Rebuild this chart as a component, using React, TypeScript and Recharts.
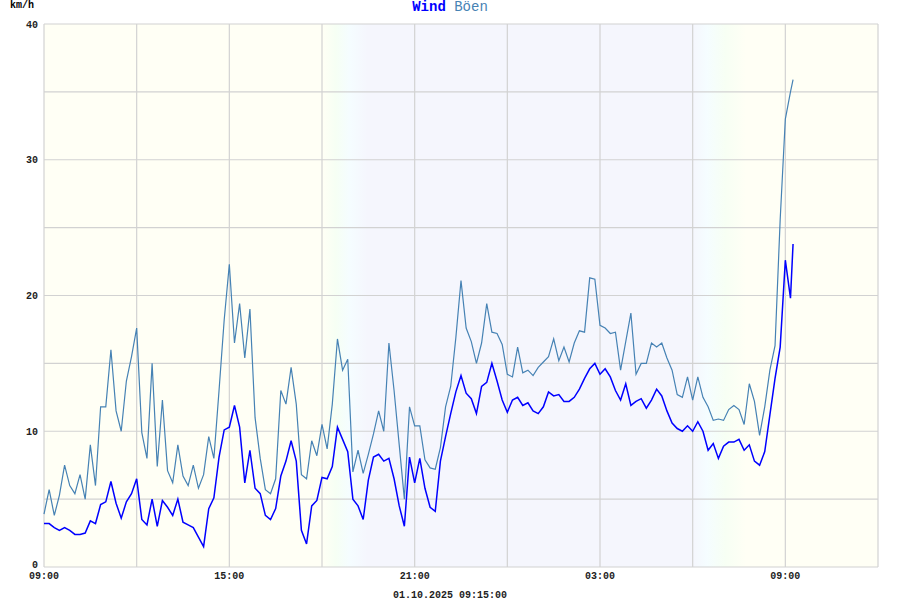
import { CartesianGrid, Line, LineChart, XAxis, YAxis } from 'recharts';

// 10-minute readings from 09:00 until 09:15 next day (km/h)
const windSpeed = [
  3.2, 3.2, 2.9, 2.7, 2.9, 2.7, 2.4, 2.4, 2.5, 3.4, 3.2, 4.6, 4.8, 6.3, 4.7, 3.6, 4.8, 5.4, 6.5, 3.5,
  3.1, 5.0, 3.0, 4.9, 4.4, 3.8, 5.0, 3.3, 3.1, 2.9, 2.2, 1.5, 4.3, 5.1, 8.1, 10.1, 10.3, 11.9, 10.3, 6.2,
  8.6, 5.8, 5.4, 3.8, 3.5, 4.3, 6.7, 7.8, 9.3, 7.8, 2.7, 1.7, 4.5, 4.9, 6.6, 6.5, 7.4, 10.3, 9.4, 8.5,
  5.0, 4.5, 3.5, 6.4, 8.1, 8.3, 7.8, 8.0, 6.5, 4.5, 3.0, 8.1, 6.2, 8.0, 5.8, 4.4, 4.1, 7.8, 9.6, 11.3,
  12.9, 14.1, 12.8, 12.4, 11.3, 13.3, 13.6, 15.0, 13.7, 12.3, 11.4, 12.3, 12.5, 11.9, 12.1, 11.5, 11.3, 11.8, 12.9, 12.6,
  12.7, 12.2, 12.2, 12.5, 13.1, 13.9, 14.6, 15.0, 14.2, 14.6, 14.0, 13.0, 12.3, 13.5, 11.9, 12.2, 12.4, 11.7, 12.3, 13.1,
  12.6, 11.5, 10.6, 10.2, 10.0, 10.4, 10.0, 10.7, 10.0, 8.6, 9.1, 8.0, 8.9, 9.2, 9.2, 9.4, 8.6, 9.0, 7.8, 7.5,
  8.5, 11.2, 13.9, 16.2, 22.6, 19.8, 23.8,
];

const gustSpeed = [
  3.9, 5.7, 3.8, 5.3, 7.5, 6.0, 5.4, 6.8, 5.0, 9.0, 6.0, 11.8, 11.8, 16.0, 11.5, 10.0, 13.7, 15.5, 17.6, 9.9,
  8.0, 15.0, 7.4, 12.3, 7.1, 6.2, 9.0, 6.7, 6.0, 7.5, 5.8, 6.8, 9.6, 8.0, 13.0, 18.2, 22.3, 16.5, 19.4, 15.4,
  19.0, 11.0, 8.0, 5.7, 5.4, 6.5, 13.0, 12.0, 14.7, 12.0, 6.8, 6.5, 9.3, 8.2, 10.5, 8.7, 12.0, 16.8, 14.5, 15.3,
  7.0, 8.6, 6.9, 8.3, 9.8, 11.5, 10.0, 16.5, 13.0, 9.0, 5.0, 11.8, 10.4, 10.4, 7.9, 7.3, 7.2, 8.8, 11.8, 13.3,
  16.9, 21.1, 17.6, 16.6, 15.0, 16.5, 19.4, 17.3, 17.2, 16.4, 14.2, 14.0, 16.2, 14.3, 14.5, 14.1, 14.7, 15.1, 15.5, 16.8,
  15.2, 16.2, 15.1, 16.5, 17.4, 17.3, 21.3, 21.2, 17.8, 17.6, 17.2, 17.3, 14.5, 16.6, 18.7, 14.2, 15.0, 15.0, 16.5, 16.2,
  16.5, 15.4, 14.5, 12.7, 12.5, 14.0, 12.3, 14.0, 12.5, 11.8, 10.8, 10.9, 10.8, 11.6, 11.9, 11.6, 10.5, 13.5, 12.2, 9.7,
  11.8, 14.5, 16.3, 25.6, 33.0, 35.0, 35.9,
];

const stepMinutes = 10;
const lastMinute = 1455; // 09:15
const minutes = windSpeed.map((_, i) => (i === windSpeed.length - 1 ? lastMinute : i * stepMinutes));

const xTicks = [0, 180, 360, 540, 720, 900, 1080, 1260, 1440, 1620];
const xTickLabels = ['09:00', '', '15:00', '', '21:00', '', '03:00', '', '09:00', ''];
const yTicks = [0, 5, 10, 15, 20, 25, 30, 35, 40];
const yTickLabels = ['0', '', '10', '', '20', '', '30', '', '40'];

const data = minutes.map((t, i) => ({ t, wind: windSpeed[i], gust: gustSpeed[i] }));

const mono = '"Liberation Mono", "DejaVu Sans Mono", monospace';

// y labels; the zero sits a little higher so it clears the time labels
function YTick(props: any) {
  const { x, y, payload } = props;
  const label = yTickLabels[yTicks.indexOf(payload.value)] ?? '';
  if (!label) return null;
  const lift = payload.value === 0 ? -3 : 0;
  return (
    <text x={x} y={y + lift} dy="0.35em" textAnchor="end" fontSize={10} fontWeight="bold" fill="#222" fontFamily={mono}>
      {label}
    </text>
  );
}

export default function App() {
  return (
    <div style={{ position: 'absolute', left: 0, top: 0, width: 900, height: 600, fontFamily: mono }}>
      <div style={{ position: 'absolute', left: 10, top: 0, fontSize: 10, fontWeight: 'bold', color: '#000' }}>km/h</div>
      <div style={{ position: 'absolute', left: 0, width: 900, top: -1, textAlign: 'center', fontSize: 14 }}>
        <span style={{ color: '#0000ff', fontWeight: 'bold' }}>Wind</span>{' '}
        <span style={{ color: '#4682b4' }}>Böen</span>
      </div>
      <LineChart width={900} height={600} data={data} margin={{ top: 24, right: 22, bottom: 0, left: 0 }}>
        <defs>
          <linearGradient id="dayNight" x1="0" y1="0" x2="1" y2="0">
            <stop offset="0" stopColor="#fffff5" />
            <stop offset="0.334" stopColor="#fffff5" />
            <stop offset="0.35" stopColor="#f6fff4" />
            <stop offset="0.366" stopColor="#f5fdff" />
            <stop offset="0.388" stopColor="#f5f6fd" />
            <stop offset="0.777" stopColor="#f5f6fd" />
            <stop offset="0.795" stopColor="#f5fdff" />
            <stop offset="0.817" stopColor="#f7fff4" />
            <stop offset="0.842" stopColor="#fffff5" />
            <stop offset="1" stopColor="#fffff5" />
          </linearGradient>
        </defs>
        <CartesianGrid stroke="#d2d2d2" strokeWidth={1.2} fill="url(#dayNight)" />
        <XAxis
          dataKey="t"
          type="number"
          domain={[0, 1620]}
          ticks={xTicks}
          tickFormatter={(v: number) => xTickLabels[xTicks.indexOf(v)] ?? ''}
          axisLine={false}
          tickLine={false}
          tickSize={0}
          tickMargin={5}
          height={33}
          interval={0}
          tick={{ fontSize: 10, fontWeight: 'bold', fill: '#222', fontFamily: mono }}
        />
        <YAxis
          type="number"
          domain={[0, 40]}
          ticks={yTicks}
          axisLine={false}
          tickLine={false}
          tickSize={4}
          tickMargin={2}
          width={44}
          interval={0}
          tick={<YTick />}
        />
        <Line type="linear" dataKey="gust" stroke="#4682b4" strokeWidth={1.2} dot={false} isAnimationActive={false} />
        <Line type="linear" dataKey="wind" stroke="#0000ff" strokeWidth={1.5} dot={false} isAnimationActive={false} />
      </LineChart>
      <div style={{ position: 'absolute', left: 0, width: 900, top: 590, textAlign: 'center', fontSize: 10, fontWeight: 'bold', color: '#222' }}>
        01.10.2025 09:15:00
      </div>
    </div>
  );
}
